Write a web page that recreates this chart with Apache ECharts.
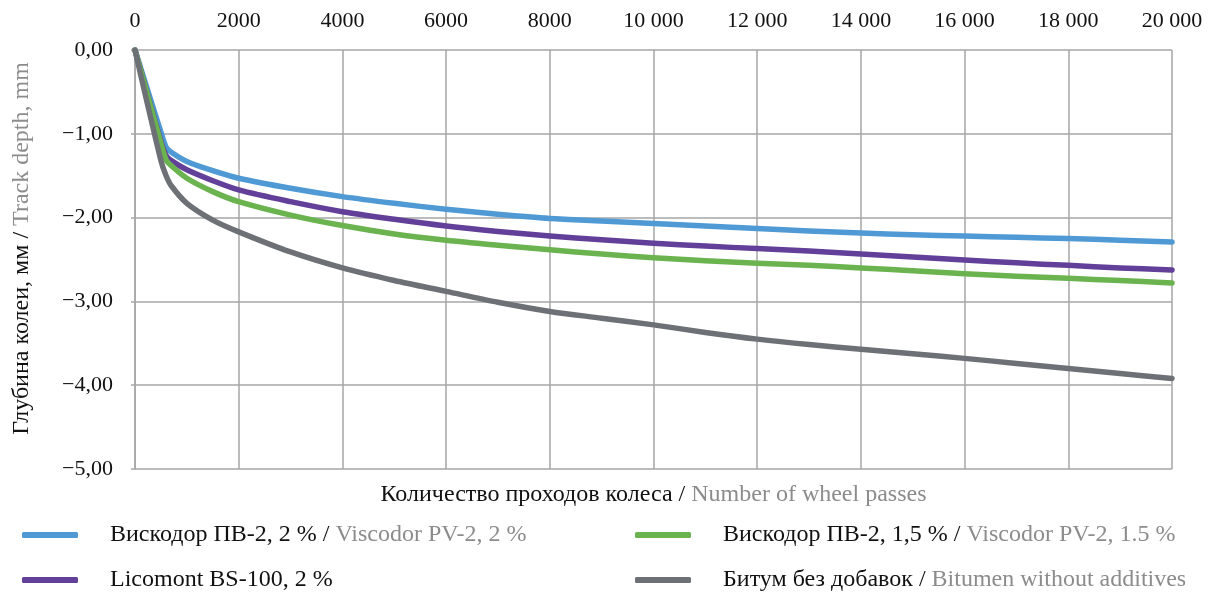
<!DOCTYPE html>
<html><head><meta charset="utf-8">
<script src="https://cdn.jsdelivr.net/npm/echarts@6/dist/echarts.min.js"></script>
<style>html,body{margin:0;padding:0;background:#fff}#c{width:1216px;height:596px}</style>
</head><body><div id="c"></div>
<script>
const passes = [0, 500, 600, 700, 1000, 1500, 2000, 3000, 4000, 5000, 6000, 7000, 8000, 9000, 10000, 11000, 12000, 13000, 14000, 15000, 16000, 17000, 18000, 19000, 20000];
const viscodor2 = [0, -0.98, -1.16, -1.22, -1.33, -1.44, -1.53, -1.65, -1.75, -1.83, -1.90, -1.96, -2.01, -2.04, -2.07, -2.10, -2.13, -2.16, -2.185, -2.205, -2.22, -2.235, -2.25, -2.27, -2.29];
const licomont = [0, -1.09, -1.26, -1.32, -1.43, -1.56, -1.67, -1.81, -1.93, -2.02, -2.10, -2.165, -2.22, -2.265, -2.305, -2.34, -2.37, -2.40, -2.435, -2.47, -2.505, -2.54, -2.57, -2.60, -2.625];
const viscodor15 = [0, -1.11, -1.31, -1.38, -1.53, -1.69, -1.81, -1.97, -2.095, -2.195, -2.27, -2.33, -2.385, -2.435, -2.48, -2.515, -2.545, -2.57, -2.60, -2.635, -2.67, -2.70, -2.725, -2.75, -2.78];
const bitumen = [0, -1.32, -1.50, -1.62, -1.83, -2.03, -2.17, -2.41, -2.60, -2.75, -2.88, -3.01, -3.12, -3.20, -3.28, -3.37, -3.45, -3.515, -3.57, -3.625, -3.68, -3.74, -3.80, -3.86, -3.92];
const seriesNames = [
  'Вискодор ПВ-2, 2 % / Viscodor PV-2, 2 %',
  'Licomont BS-100, 2 %',
  'Вискодор ПВ-2, 1,5 % / Viscodor PV-2, 1.5 %',
  'Битум без добавок / Bitumen without additives'
];
const seriesValues = [viscodor2, licomont, viscodor15, bitumen];
const colors = ['#4f9ad5', '#623f98', '#6ab34f', '#6d7175'];
const xTitleRu = 'Количество проходов колеса';
const xTitleEn = 'Number of wheel passes';
const yTitleRu = 'Глубина колеи, мм';
const yTitleEn = 'Track depth, mm';

const FONT = 'Liberation Serif';
const chart = echarts.init(document.getElementById('c'), null, {renderer: 'canvas'});

function richName(name) {
  const i = name.indexOf(' / ');
  if (i < 0) return '{a|' + name + '}';
  return '{a|' + name.slice(0, i) + ' / }{b|' + name.slice(i + 3) + '}';
}
function mkLegend(k, left, top) {
  return {
    data: [seriesNames[k]],
    orient: 'horizontal', left: left, top: top,
    icon: 'roundRect', itemWidth: 56, itemHeight: 6,
    formatter: richName,
    textStyle: {fontFamily: FONT, fontSize: 24, lineHeight: 30, rich: {
      a: {fontFamily: FONT, fontSize: 24, color: '#111', padding: [0, 0, 0, 27]},
      b: {fontFamily: FONT, fontSize: 24, color: '#8c8c8c'}
    }}
  };
}

const series = seriesValues.map((vals, k) => ({
  name: seriesNames[k],
  type: 'line',
  data: passes.map((p, i) => [p, vals[i]]),
  smooth: 0.3,
  showSymbol: false,
  symbol: 'none',
  lineStyle: {color: colors[k], width: 5.5, cap: 'round', join: 'round'},
  itemStyle: {color: colors[k]},
  z: k === 3 ? 5 : 3
}));

chart.setOption({
  animation: false,
  backgroundColor: '#fff',
  grid: {left: 135, right: 44, top: 50, bottom: 127, outerBoundsMode: 'none', containLabel: false},
  legend: [
    mkLegend(0, 17, 515),
    mkLegend(1, 17, 560),
    mkLegend(2, 630, 515),
    mkLegend(3, 630, 560)
  ],
  xAxis: [
    {
      type: 'value', position: 'top', min: 0, max: 20000, interval: 2000,
      axisLine: {show: false},
      axisTick: {show: false},
      axisLabel: {
        fontFamily: FONT, fontSize: 22, color: '#111', margin: 18,
        formatter: v => v >= 10000 ? String(v).replace(/(\d)(\d{3})$/, '$1 $2') : String(v)
      },
      splitLine: {show: true, lineStyle: {color: '#a6a6a6', width: 1.5}}
    },
    {
      type: 'value', position: 'bottom', min: 0, max: 20000,
      axisLine: {show: false}, axisTick: {show: false}, axisLabel: {show: false},
      splitLine: {show: false},
      name: '{a|' + xTitleRu + ' / }{b|' + xTitleEn + '}',
      nameLocation: 'middle', nameGap: 14,
      nameTextStyle: {rich: {
        a: {fontFamily: FONT, fontSize: 24, color: '#111'},
        b: {fontFamily: FONT, fontSize: 24, color: '#8c8c8c'}
      }}
    }
  ],
  yAxis: {
    type: 'value', min: -5, max: 0, interval: 1,
    axisLine: {show: true, lineStyle: {color: '#a6a6a6', width: 1.5}},
    axisTick: {show: true, length: 4, lineStyle: {color: '#a6a6a6', width: 1.5}},
    axisLabel: {
      fontFamily: FONT, fontSize: 22, color: '#111', margin: 22,
      formatter: v => (v < 0 ? '−' : '') + Math.abs(v).toFixed(2).replace('.', ',')
    },
    splitLine: {show: true, lineStyle: {color: '#a6a6a6', width: 1.5}},
    name: '{a|' + yTitleRu + ' / }{b|' + yTitleEn + '}',
    nameLocation: 'middle', nameGap: 101, nameRotate: 90,
    nameTextStyle: {padding: [0, 0, 0, 22], rich: {
      a: {fontFamily: FONT, fontSize: 24, color: '#111'},
      b: {fontFamily: FONT, fontSize: 24, color: '#8c8c8c'}
    }}
  },
  series: series
});
</script>
</body></html>
